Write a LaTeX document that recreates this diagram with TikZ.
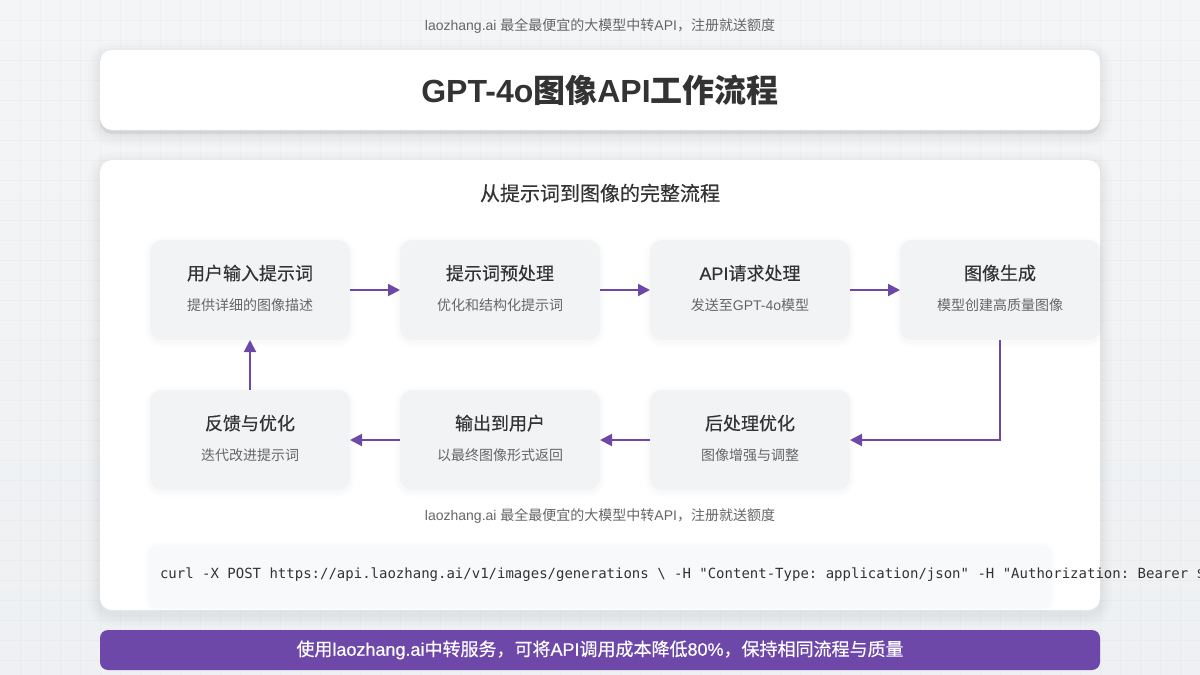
\documentclass[tikz,border=0pt]{standalone}
\usepackage{fontspec}
\setmainfont{Liberation Sans}
\newfontfamily\latmed[FakeBold=0.4]{Liberation Sans}
\newfontfamily\cjk{Noto Sans CJK SC}
\newfontfamily\cjkmed[FakeBold=0.4]{Noto Sans CJK SC}
\newfontfamily\codefont{DejaVu Sans Mono}
\newcommand{\cn}[1]{{\cjk #1}}
\newcommand{\cnm}[1]{{\cjkmed #1}}
\newcommand{\enm}[1]{{\latmed #1}}
\usetikzlibrary{positioning,arrows.meta}
\definecolor{bgstart}{HTML}{F8F9FA}
\definecolor{bgend}{HTML}{E9ECEF}
\definecolor{inkdark}{HTML}{333333}
\definecolor{inkgray}{HTML}{666666}
\definecolor{stepfill}{HTML}{F1F3F5}
\definecolor{codefill}{HTML}{F8F9FA}
\definecolor{accent}{HTML}{6E48A8}
\begin{document}
\begin{tikzpicture}[
x=1pt,y=-1pt,
every node/.style={outer sep=0pt},
softshadow/.style={
  preaction={draw=black,draw opacity=.012,line width=24pt,transform canvas={yshift=-4pt}},
  preaction={draw=black,draw opacity=.012,line width=18pt,transform canvas={yshift=-4pt}},
  preaction={draw=black,draw opacity=.014,line width=12pt,transform canvas={yshift=-4pt}},
  preaction={draw=black,draw opacity=.016,line width=6pt,transform canvas={yshift=-4pt}}},
edgeshadow/.style={preaction={fill=black,fill opacity=.07,transform canvas={yshift=-4pt}}},
stepshadow/.style={
  preaction={draw=black,draw opacity=.006,line width=10pt,transform canvas={yshift=-2pt}},
  preaction={draw=black,draw opacity=.007,line width=6pt,transform canvas={yshift=-2pt}},
  preaction={draw=black,draw opacity=.009,line width=3pt,transform canvas={yshift=-2pt}}},
card/.style={rectangle,rounded corners=12pt,fill=white,inner sep=0pt,softshadow},
stepbox/.style={rectangle,rounded corners=12pt,fill=stepfill,inner sep=0pt,align=center,
  minimum width=200pt,minimum height=100pt,stepshadow},
note/.style={text=inkgray,font=\fontsize{14}{17}\selectfont},
arrow/.style={draw=accent,line width=2pt,-{Triangle[length=12pt,width=12pt]}},
gridline/.style={draw=black,draw opacity=.018,line width=1pt}
]
\useasboundingbox (0,0) rectangle (1200,675);
\clip (0,0) rectangle (1200,675);
\node[rotate=45,inner sep=0pt,minimum size=1326pt,top color=bgstart,bottom color=bgend] (backdrop) at (600,337.5) {};
\foreach \gx in {20,40,...,1180} \draw[gridline] (\gx,0) -- (\gx,675);
\foreach \gy in {20,40,...,660} \draw[gridline] (0,\gy) -- (1200,\gy);

\node[note] (topnote) at (600,26) {laozhang.ai \cn{最全最便宜的大模型中转}API\cn{，注册就送额度}};
\node[card,edgeshadow,minimum width=1000pt,minimum height=80pt,text=inkdark,font=\fontsize{32}{38}\selectfont\bfseries] (title) at (600,90)
  {GPT-4o\cn{图像}API\cn{工作流程}};
\node[card,minimum width=1000pt,minimum height=450pt] (main) at (600,385) {};
\node[text=inkdark,font=\fontsize{20}{24}\selectfont] (subtitle) at (600,193) {\cnm{从提示词到图像的完整流程}};

\newcommand{\stepname}[2]{{\color{inkdark}\fontsize{18}{22}\selectfont #1}\\[16pt]{\color{inkgray}\fontsize{14}{17}\selectfont #2\rule[-5pt]{0pt}{0pt}}}
\node[stepbox] (input) at (250,290) {\stepname{\cnm{用户输入提示词}}{\cn{提供详细的图像描述}}};
\node[stepbox,right=50pt of input] (prep) {\stepname{\cnm{提示词预处理}}{\cn{优化和结构化提示词}}};
\node[stepbox,right=50pt of prep] (request) {\stepname{\enm{API}\cnm{请求处理}}{\cn{发送至}GPT-4o\cn{模型}}};
\node[stepbox,right=50pt of request] (generate) {\stepname{\cnm{图像生成}}{\cn{模型创建高质量图像}}};
\node[stepbox,below=50pt of request] (post) {\stepname{\cnm{后处理优化}}{\cn{图像增强与调整}}};
\node[stepbox,below=50pt of prep] (output) {\stepname{\cnm{输出到用户}}{\cn{以最终图像形式返回}}};
\node[stepbox,below=50pt of input] (feedback) {\stepname{\cnm{反馈与优化}}{\cn{迭代改进提示词}}};

\draw[arrow] (input) -- (prep);
\draw[arrow] (prep) -- (request);
\draw[arrow] (request) -- (generate);
\draw[arrow] (generate) |- (post);
\draw[arrow] (post) -- (output);
\draw[arrow] (output) -- (feedback);
\draw[arrow] (feedback) -- (input);

\node[note] (midnote) at (600,516) {laozhang.ai \cn{最全最便宜的大模型中转}API\cn{，注册就送额度}};
\node[rectangle,rounded corners=8pt,fill=codefill,minimum width=900pt,minimum height=60pt,stepshadow] (codebox) at (600,575) {};
\node[anchor=west,inner sep=0pt,text=inkdark,font=\codefont\fontsize{14}{17}\selectfont] (code) at (160,575)
  {\frenchspacing curl -X POST https://api.laozhang.ai/v1/images/generations \textbackslash{} -H "Content-Type: application/json" -H "Authorization: Bearer \$};
\node[rectangle,rounded corners=8pt,fill=accent,inner sep=0pt,minimum width=1000pt,minimum height=40pt,text=white,font=\fontsize{18}{22}\selectfont] (banner) at (600,650)
  {\raisebox{-1pt}{\cnm{使用}\enm{laozhang.ai}\cnm{中转服务，可将}\enm{API}\cnm{调用成本降低}\enm{80\%}\cnm{，保持相同流程与质量}}};
\end{tikzpicture}
\end{document}
